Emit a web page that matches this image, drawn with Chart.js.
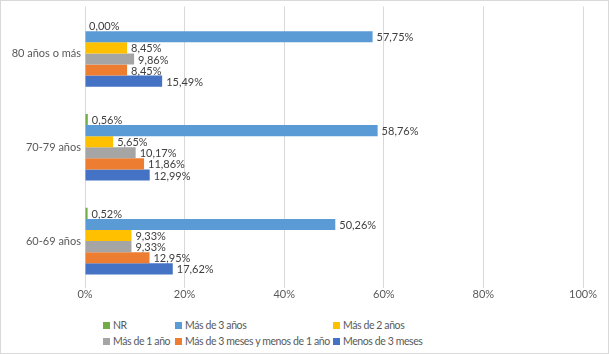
<!DOCTYPE html>
<html>
<head>
<meta charset="utf-8">
<script src="https://cdn.jsdelivr.net/npm/chart.js@4.4.1/dist/chart.umd.min.js"></script>
<style>
  body{margin:0;background:#fff;font-family:Lato,"Open Sans",sans-serif;}
  #box{position:absolute;left:0;top:0;width:609px;height:354px;border:1px solid #d9d9d9;box-sizing:border-box;background:#fff;}
  #wrap{position:absolute;left:0;top:0;width:607px;height:310px;}
  .leg{position:absolute;font-size:10.5px;color:#595959;white-space:nowrap;line-height:14px;letter-spacing:-0.4px;}
  .leg span{display:inline-block;width:7px;height:7px;margin-right:3px;vertical-align:0px;}
</style>
</head>
<body>
<div id="box">
  <div id="wrap"><canvas id="grafico"></canvas></div>
  <div id="legend"></div>
</div>
<script>
const categorias = ['80 años o más', '70-79 años', '60-69 años']
const series = ['NR', 'Más de 3 años', 'Más de 2 años', 'Más de 1 año', 'Más de 3 meses y menos de 1 año', 'Menos de 3 meses']
const nr = [0.00, 0.56, 0.52]
const mas3anos = [57.75, 58.76, 50.26]
const mas2anos = [8.45, 5.65, 9.33]
const mas1ano = [9.86, 10.17, 9.33]
const mas3meses = [8.45, 11.86, 12.95]
const menos3meses = [15.49, 12.99, 17.62]
const ticksX = [0, 20, 40, 60, 80, 100]
const colores = ['#70AD47', '#5B9BD5', '#FFC000', '#A5A5A5', '#ED7D31', '#4472C4']

const valores = [nr, mas3anos, mas2anos, mas1ano, mas3meses, menos3meses]
const fmt = (v) => v.toFixed(2).replace('.', ',') + '%'

// etiquetas al final de cada barra
const etiquetas = {
  id: 'etiquetas',
  afterDatasetsDraw(chart) {
    const ctx = chart.ctx
    ctx.save()
    ctx.font = '11px Lato, "Open Sans", sans-serif'
    ctx.fillStyle = '#404040'
    ctx.textBaseline = 'middle'
    ctx.textAlign = 'left'
    chart.data.datasets.forEach((ds, i) => {
      chart.getDatasetMeta(i).data.forEach((bar, j) => {
        ctx.fillText(fmt(ds.data[j]), bar.x + 4, bar.y + 1)
      })
    })
    ctx.restore()
  }
}

Chart.defaults.font.family = 'Lato, "Open Sans", sans-serif'
Chart.defaults.font.size = 11
Chart.defaults.color = '#595959'

const grafico = new Chart(document.getElementById('grafico'), {
  type: 'bar',
  data: {
    labels: categorias,
    datasets: series.map((s, i) => ({
      label: s,
      data: valores[i],
      backgroundColor: colores[i],
      borderWidth: 0,
      categoryPercentage: 0.71,
      barPercentage: 1.0
    }))
  },
  options: {
    indexAxis: 'y',
    responsive: true,
    maintainAspectRatio: false,
    animation: false,
    layout: { padding: { left: 0, right: 25, top: 5.5, bottom: 0 } },
    plugins: {
      legend: { display: false },
      tooltip: { enabled: false }
    },
    scales: {
      x: {
        min: 0,
        max: 100,
        afterBuildTicks: (axis) => { axis.ticks = ticksX.map(v => ({ value: v })) },
        ticks: { padding: 0, callback: (v) => v + '%' },
        grid: { color: '#d9d9d9', drawTicks: false },
        border: { display: false },
        afterFit: (axis) => { axis.height = 23 }
      },
      y: {
        ticks: { padding: 4 },
        grid: { display: false, drawTicks: false },
        border: { display: false },
        afterFit: (axis) => {
          axis.width = 84
          axis.paddingTop = 0
          axis.paddingBottom = 0
        }
      }
    }
  },
  plugins: [etiquetas]
})

// leyenda en dos filas y tres columnas
const legend = document.getElementById('legend')
const colX = [102, 174, 332]
const rowY = [317, 333]
series.forEach((s, i) => {
  const d = document.createElement('div')
  d.className = 'leg'
  d.style.left = colX[i % 3] + 'px'
  d.style.top = rowY[Math.floor(i / 3)] + 'px'
  d.innerHTML = `<span style="background:${colores[i]}"></span>${s}`
  legend.appendChild(d)
})
</script>
</body>
</html>
